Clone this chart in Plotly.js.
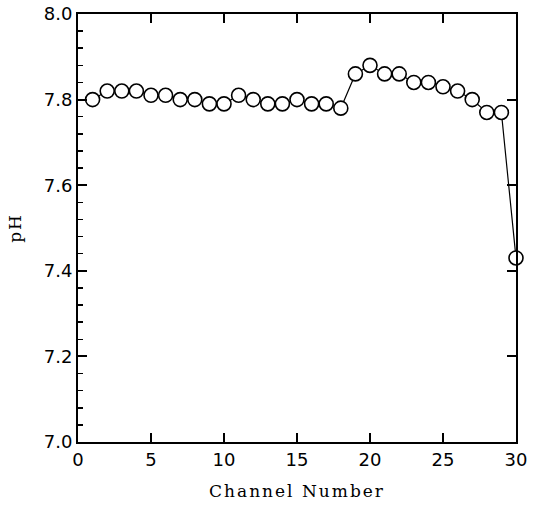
<!DOCTYPE html>
<html>
<head>
<meta charset="utf-8">
<script src="https://cdn.plot.ly/plotly-3.0.1.min.js"></script>
<style>
html,body{margin:0;padding:0;background:#fff;}
.xtitle, .ytitle {letter-spacing: 2px;}
</style>
</head>
<body>
<div id="chart" style="width:539px;height:505px;"></div>
<script>
const channels = [1,2,3,4,5,6,7,8,9,10,11,12,13,14,15,16,17,18,19,20,21,22,23,24,25,26,27,28,29,30];
const phValues = [7.80,7.82,7.82,7.82,7.81,7.81,7.80,7.80,7.79,7.79,7.81,7.80,7.79,7.79,7.80,7.79,7.79,7.78,7.86,7.88,7.86,7.86,7.84,7.84,7.83,7.82,7.80,7.77,7.77,7.43];
const xTicks = [0,5,10,15,20,25,30];
const yTicks = [7.0,7.2,7.4,7.6,7.8,8.0];

const tickFont = {family: 'DejaVu Sans, sans-serif', size: 18, color: '#000'};
const titleFont = {family: 'DejaVu Serif, serif', size: 17, color: '#000'};

const trace = {
  x: channels, y: phValues, type: 'scatter', mode: 'lines+markers',
  line: {color: '#000', width: 1.2},
  marker: {symbol: 'circle', size: 14, color: '#fff', line: {color: '#000', width: 1.6}},
  cliponaxis: false, hoverinfo: 'none'
};

const layout = {
  width: 539, height: 505,
  margin: {l: 78, r: 23, t: 14, b: 63},
  paper_bgcolor: '#fff', plot_bgcolor: '#fff',
  showlegend: false,
  xaxis: {
    range: [0, 30], tickvals: xTicks, ticktext: xTicks.map(String),
    ticks: 'inside', ticklen: 9, tickwidth: 2, tickcolor: '#000',
    showline: true, linewidth: 2, linecolor: '#000', mirror: true,
    showgrid: false, zeroline: false, tickfont: tickFont,
    title: {text: 'Channel Number', font: titleFont, standoff: 17}
  },
  yaxis: {
    range: [7.0, 8.0], tickvals: yTicks, ticktext: yTicks.map(v => v.toFixed(1)),
    ticks: 'inside', ticklen: 9, tickwidth: 2, tickcolor: '#000',
    showline: true, linewidth: 2, linecolor: '#000', mirror: true,
    showgrid: false, zeroline: false, tickfont: tickFont,
    minor: {dtick: 0.04, ticks: 'inside', ticklen: 5, tickwidth: 1.5, tickcolor: '#000'},
    title: {text: 'pH', font: titleFont, standoff: 18}
  },
  xaxis2: {
    overlaying: 'x', side: 'top', range: [0, 30], tickvals: xTicks,
    ticks: 'inside', ticklen: 9, tickwidth: 2, tickcolor: '#000',
    showticklabels: false, showgrid: false, zeroline: false, showline: false
  },
  yaxis2: {
    overlaying: 'y', side: 'right', range: [7.0, 8.0], tickvals: yTicks,
    ticks: 'inside', ticklen: 9, tickwidth: 2, tickcolor: '#000',
    showticklabels: false, showgrid: false, zeroline: false, showline: false
  }
};

const dummy = {x: [null], y: [null], xaxis: 'x2', yaxis: 'y2', type: 'scatter', hoverinfo: 'none'};

Plotly.newPlot('chart', [dummy, trace], layout, {displayModeBar: false, staticPlot: true});
</script>
</body>
</html>
